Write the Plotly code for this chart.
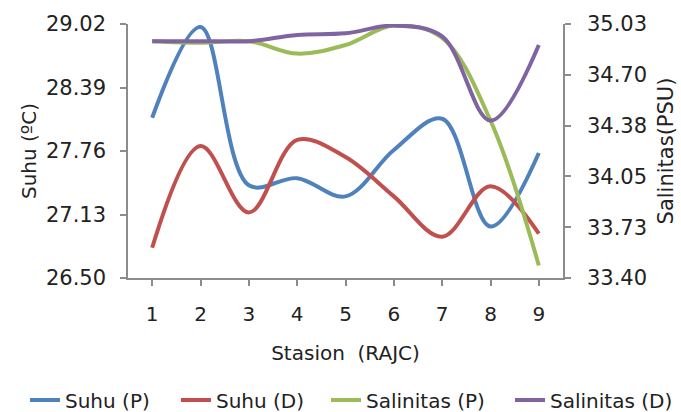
import plotly.graph_objects as go

stations = [1, 2, 3, 4, 5, 6, 7, 8, 9]
suhu_p = [28.09, 28.99, 27.42, 27.49, 27.31, 27.77, 28.08, 27.01, 27.74]
suhu_d = [26.80, 27.81, 27.15, 27.87, 27.70, 27.31, 26.91, 27.41, 26.94]
sal_p = [34.92, 34.91, 34.92, 34.84, 34.895, 35.02, 34.94, 34.41, 33.48]
sal_d = [34.92, 34.92, 34.92, 34.96, 34.97, 35.02, 34.95, 34.41, 34.895]

left_ticks = [26.50, 27.13, 27.76, 28.39, 29.02]
right_ticks = [33.40, 33.726, 34.052, 34.378, 34.704, 35.03]
right_labels = ["33.40", "33.73", "34.05", "34.38", "34.70", "35.03"]

FONT = "DejaVu Sans"
TXT = "#222222"

fig = go.Figure()
series = [
    ("Suhu (P)", suhu_p, "#4F81BD", "y", "legend"),
    ("Suhu (D)", suhu_d, "#C0504D", "y", "legend2"),
    ("Salinitas (P)", sal_p, "#9BBB59", "y2", "legend3"),
    ("Salinitas (D)", sal_d, "#8064A2", "y2", "legend4"),
]
for name, vals, col, ax, lg in series:
    fig.add_trace(go.Scatter(
        x=stations, y=vals, name=name, mode="lines", yaxis=ax, legend=lg,
        line=dict(color=col, width=4, shape="spline", smoothing=1.0),
    ))

axis_common = dict(showgrid=False, zeroline=False, showline=True,
                   linecolor="#8c8c8c", linewidth=1.5, ticks="outside",
                   ticklen=6, tickcolor="#8c8c8c", tickwidth=1.5, automargin=False)

legend_x = [0.0367, 0.2584, 0.4787, 0.7489]
legends = {}
for i, lx in enumerate(legend_x):
    key = "legend" if i == 0 else "legend%d" % (i + 1)
    legends[key] = dict(orientation="h", x=lx, xanchor="left", xref="container",
                        y=0.029, yanchor="middle", yref="container",
                        font=dict(size=20, family=FONT, color=TXT),
                        bgcolor="rgba(0,0,0,0)", borderwidth=0)

fig.update_layout(
    width=681, height=412,
    margin=dict(l=128, r=118, t=24, b=134),
    paper_bgcolor="white", plot_bgcolor="white",
    font=dict(family=FONT, color=TXT, size=16),
    showlegend=True,
    xaxis=dict(range=[0.5, 9.5], tickvals=stations, ticktext=[str(s) for s in stations],
               tickfont=dict(size=20), ticklabelstandoff=11,
               title=dict(text="Stasion  (RAJC)", font=dict(size=20), standoff=21),
               **axis_common),
    yaxis=dict(range=[26.50, 29.02], tickvals=left_ticks,
               ticktext=["%.2f" % v for v in left_ticks],
               tickfont=dict(size=21), ticklabelstandoff=10,
               title=dict(text="Suhu (ºC)", font=dict(size=20), standoff=4),
               **axis_common),
    yaxis2=dict(range=[33.40, 35.03], tickvals=right_ticks, ticktext=right_labels,
                overlaying="y", side="right",
                tickfont=dict(size=21), ticklabelstandoff=12,
                title=dict(text="Salinitas(PSU)", font=dict(size=21), standoff=12),
                **axis_common),
    **legends,
)

fig.write_html("out.html",
               config={"displayModeBar": False},
               post_script="document.body.style.margin='0';document.body.style.overflow='hidden';")
